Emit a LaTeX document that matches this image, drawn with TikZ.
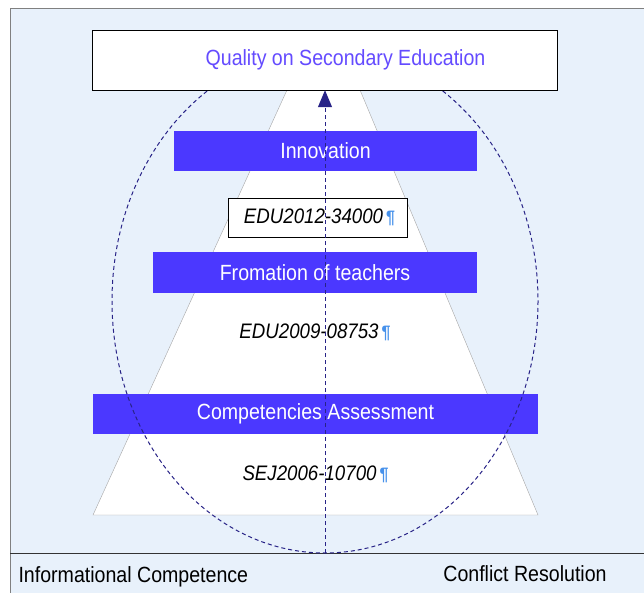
\documentclass[tikz,border=0pt]{standalone}
\usepackage{fontspec}
\setmainfont{Liberation Sans}[FakeStretch=0.89]
\usepackage{xcolor}
\usepackage{tikz}
\usetikzlibrary{arrows.meta}

\definecolor{barblue}{RGB}{75,56,255}
\definecolor{titleblue}{RGB}{100,75,255}
\definecolor{navy}{RGB}{40,35,135}
\definecolor{paleblue}{RGB}{232,241,251}
\definecolor{pilcrow}{RGB}{70,145,235}
\definecolor{edgegray}{RGB}{165,165,165}
\newcommand{\pil}{{\upshape\bfseries\fontsize{18}{18}\selectfont\color{pilcrow}\,¶}}

\begin{document}
\begin{tikzpicture}[x=1pt,y=-1pt,node distance=60pt,
    every node/.style={font=\fontsize{22}{24}\selectfont},
    bar/.style={fill=barblue,text=white,minimum height=40pt,inner sep=0pt},
    idbox/.style={draw,fill=white,minimum width=179pt,minimum height=39pt,font=\fontsize{21}{24}\selectfont\itshape},
    idtext/.style={font=\fontsize{21}{24}\selectfont\itshape},
    dashline/.style={navy,dash pattern=on 4pt off 3pt,line width=1pt}]
    \useasboundingbox (0,0) rectangle (644,593);
    % frame
    \fill[paleblue] (10,8) rectangle (644,593);
    \draw[gray] (10,593) -- (10,8) -- (644,8);
    \draw[black!80] (10,553) -- (644,553);
    % pyramid
    \filldraw[fill=white,draw=edgegray] (287,90) -- (93,515) -- (538,515) -- (360,90) -- cycle;

    \node[bar,minimum width=303pt] (innov) at (325.5,151) {Innovation};
    \node[idbox] (edu12) at (317.5,217.5) {\hspace*{4pt}EDU2012-34000\pil};
    \node[bar,minimum width=324pt] (teach) at (315,272.5) {Fromation of teachers};
    \node[idtext,below of=teach] (edu09) {EDU2009-08753\pil};
    \node[bar,minimum width=445pt] (assess) at (315.5,414) {Competencies Assessment};
    \node[idtext,below of=assess] (sej06) {SEJ2006-10700\pil};

    \draw[dashline] (325,301) ellipse [x radius=213, y radius=252];

    \node[draw,fill=white,minimum width=465pt,minimum height=60pt,text=titleblue] (quality) at (324.5,60) {\raisebox{-2pt}{\hspace*{42pt}Quality on Secondary Education}};

    \coordinate (base) at (325,553);
    \draw[dashline,-{Triangle[width=14pt,length=17pt]}] (base) -- (quality.south -| base);

    \node[anchor=west] (info) at (15,577) {Informational Competence};
    \node (conflict) at (525,574) {Conflict Resolution};
\end{tikzpicture}
\end{document}
